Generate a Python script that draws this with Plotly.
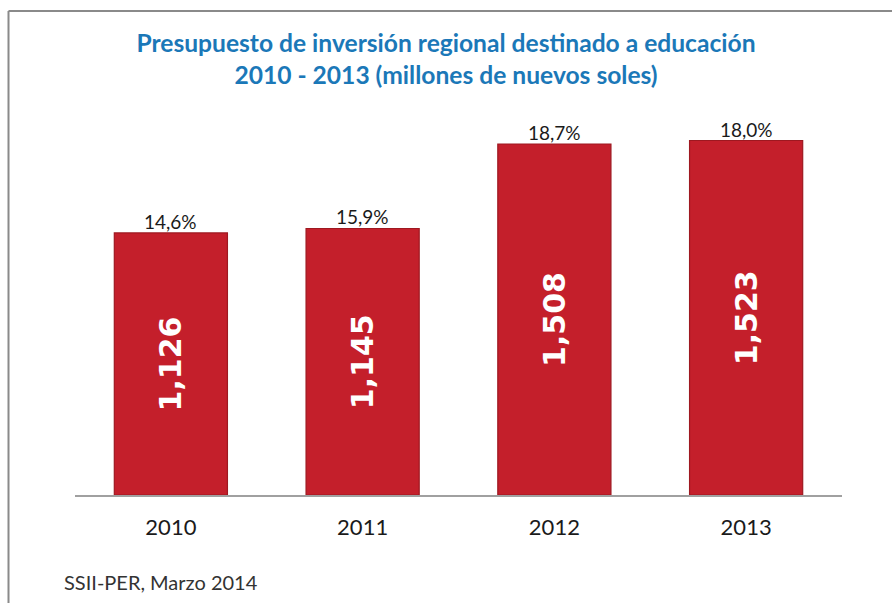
import plotly.graph_objects as go

# Regional investment budget for education, millions of nuevos soles
years = ["2010", "2011", "2012", "2013"]
amounts = [1126, 1145, 1508, 1523]
shares = ["14,6%", "15,9%", "18,7%", "18,0%"]

W, H = 892, 603
ML, MR, MT, MB = 75, 50, 100, 108
PW, PH = W - ML - MR, H - MT - MB
Y_MAX = 1697


def px_x(p):
    return (p - ML) / PW


def px_y(p):
    return (H - MB - p) / PH


fig = go.Figure()
fig.add_trace(go.Bar(
    x=years,
    y=amounts,
    width=0.59,
    marker=dict(color="#c41f2b", line=dict(color="#9e1820", width=1.2)),
    text=[f"{v:,}" for v in amounts],
    textposition="inside",
    insidetextanchor="middle",
    textangle=-90,
    textfont=dict(family="DejaVu Sans", size=30, color="white", weight="bold"),
    hoverinfo="skip",
))

# Share labels above each bar (category index as position)
for i, (v, s) in enumerate(zip(amounts, shares)):
    fig.add_annotation(x=i, y=v, text=s, showarrow=False, yanchor="bottom",
                       yshift=-2, font=dict(family="Lato", size=19, color="#1a1a1a"))

fig.add_annotation(x=px_x(62), y=px_y(582), xref="paper", yref="paper",
                   xanchor="left", yanchor="middle", showarrow=False,
                   text="SSII-PER, Marzo 2014",
                   font=dict(family="Lato", size=20, color="#333333"))

# Frame around the chart (left and top edges)
fig.add_shape(type="line", xref="paper", yref="paper",
              x0=px_x(8.5), y0=px_y(H + 2), x1=px_x(8.5), y1=px_y(11),
              line=dict(color="#8a8a8a", width=2))
fig.add_shape(type="line", xref="paper", yref="paper",
              x0=px_x(8.5), y0=px_y(11), x1=px_x(W + 2), y1=px_y(11),
              line=dict(color="#8a8a8a", width=2))

fig.update_layout(
    width=W, height=H,
    margin=dict(l=ML, r=MR, t=MT, b=MB),
    paper_bgcolor="white", plot_bgcolor="white",
    showlegend=False,
    title=dict(
        text="Presupuesto de inversión regional destinado a educación<br>2010 - 2013 (millones de nuevos soles)",
        x=0.5, xanchor="center", y=1 - 52 / H, yanchor="middle",
        font=dict(family="Lato", size=24.6, color="#1b78b8", weight="bold"),
    ),
    xaxis=dict(type="category", categoryorder="array", categoryarray=years,
               range=[-0.5, len(years) - 0.5],
               showline=True, linecolor="#a0a0a0", linewidth=1.5,
               ticks="outside", ticklen=12, tickcolor="rgba(0,0,0,0)",
               tickfont=dict(family="Lato", size=22, color="#1a1a1a"),
               showgrid=False, zeroline=False),
    yaxis=dict(range=[0, Y_MAX], visible=False, showgrid=False, zeroline=False),
    uniformtext=dict(minsize=30, mode="show"),
)

fig.write_html("out.html")
